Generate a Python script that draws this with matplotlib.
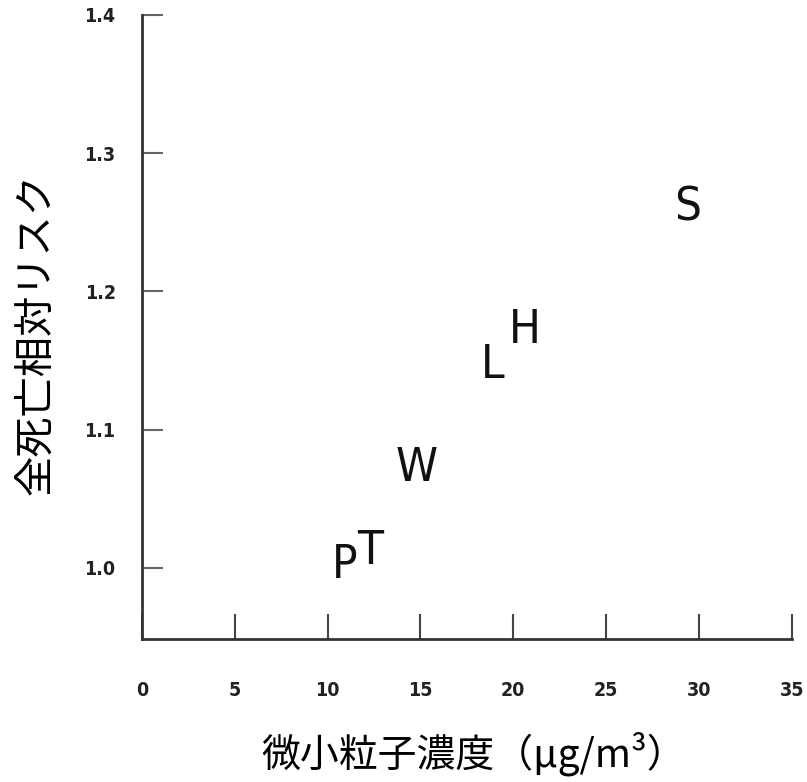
import matplotlib
matplotlib.use("Agg")
import matplotlib.pyplot as plt

# Data
cities = ["P", "T", "W", "L", "H", "S"]
fine_particles = [10.9, 12.3, 14.8, 18.9, 20.6, 29.4]
relative_risk = [1.002, 1.012, 1.072, 1.146, 1.172, 1.260]
xticks = [0, 5, 10, 15, 20, 25, 30, 35]
yticks = [1.0, 1.1, 1.2, 1.3, 1.4]
ytick_labels = ["1.0", "1.1", "1.2", "1.3", "1.4"]
xlabel = "微小粒子濃度（μg/m³）"
ylabel = "全死亡相対リスク"

fig = plt.figure(figsize=(8.07, 7.82), dpi=100)
ax = fig.add_axes([0.176, 0.183, 0.805, 0.798])

for c, x, y in zip(cities, fine_particles, relative_risk):
    ax.text(x, y, c, ha="center", va="center", fontsize=34,
            family="DejaVu Sans", fontstretch="condensed", color="#111111")

ax.set_xlim(0, 35)
ax.set_ylim(0.9486, 1.4)
ax.set_xticks(xticks)
ax.set_yticks(yticks)
ax.set_yticklabels(ytick_labels)

for s in ["top", "right"]:
    ax.spines[s].set_visible(False)
for s in ["left", "bottom"]:
    ax.spines[s].set_linewidth(2)
    ax.spines[s].set_color("#333333")

ax.tick_params(axis="x", direction="in", length=18, width=1.5, color="#444444",
               pad=30, labelsize=14, labelcolor="#222222")
ax.tick_params(axis="y", direction="in", length=15, width=1.5, color="#666666",
               pad=19, labelsize=14, labelcolor="#222222")
for lab in ax.get_xticklabels() + ax.get_yticklabels():
    lab.set_family("DejaVu Sans")
    lab.set_fontstretch("condensed")
    lab.set_fontweight("bold")

fig.text(474 / 807, 1 - 754 / 782, xlabel, ha="center", va="center", fontsize=28,
         family=["Noto Sans CJK JP", "DejaVu Sans"])
fig.text(36 / 807, 1 - 334 / 782, ylabel, ha="center", va="center", fontsize=29,
         rotation=90, family=["Noto Sans CJK JP", "DejaVu Sans"])

fig.savefig("out.png", dpi=100)
